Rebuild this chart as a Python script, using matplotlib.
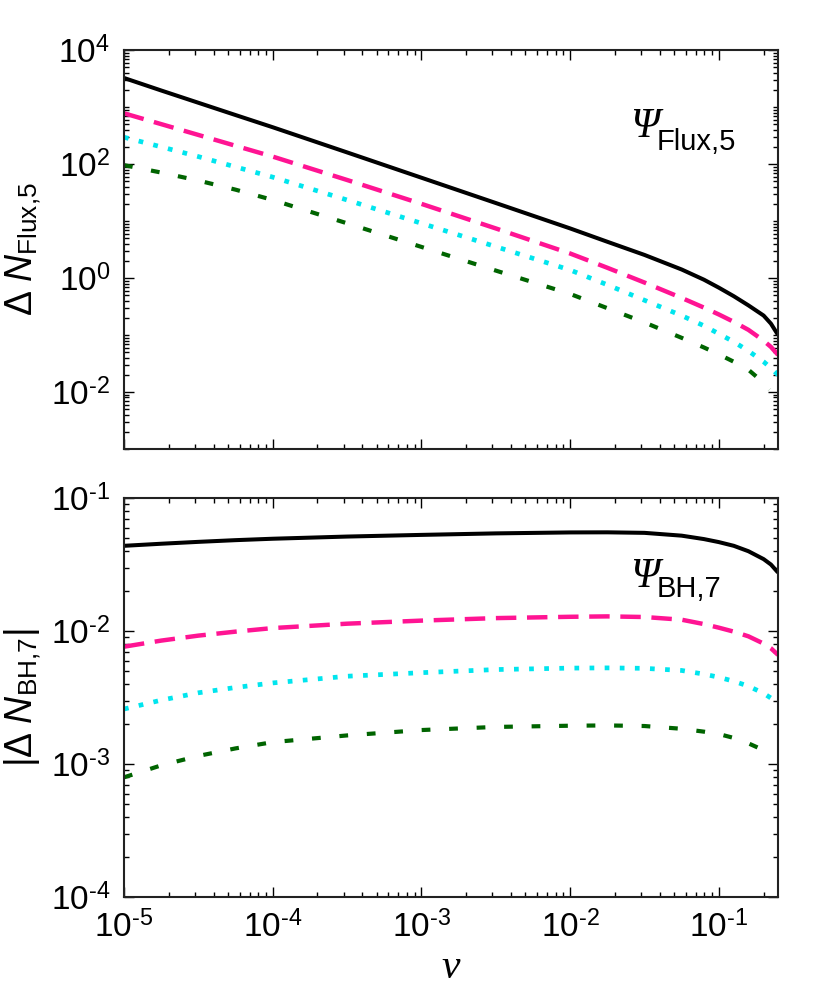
import numpy as np
import matplotlib
matplotlib.use('Agg')
import matplotlib.pyplot as plt
from matplotlib.ticker import LogLocator, FuncFormatter, NullFormatter

plt.rcParams['font.family'] = ['Liberation Sans', 'DejaVu Sans']
plt.rcParams['mathtext.fontset'] = 'custom'
plt.rcParams['mathtext.rm'] = 'Liberation Sans'
plt.rcParams['mathtext.it'] = 'Liberation Serif:italic'
plt.rcParams['mathtext.cal'] = 'Liberation Sans:italic'
plt.rcParams['mathtext.sf'] = 'Liberation Sans'

nu = [1e-5, 1.78e-5, 3.16e-5, 5.62e-5, 1e-4, 3.16e-4, 1e-3, 3.16e-3, 1e-2, 1.78e-2,
      3.16e-2, 5.62e-2, 7.94e-2, 0.1, 0.126, 0.158, 0.2, 0.224, 0.25]
nu_green = [1e-5, 1.78e-5, 3.16e-5, 5.62e-5, 1e-4, 3.16e-4, 1e-3, 3.16e-3, 1e-2, 1.78e-2,
            3.16e-2, 5.62e-2, 7.94e-2, 0.1, 0.126, 0.158, 0.2, 0.219]

# top panel: Delta N_Flux,5
flux_black = [3236, 1950, 1189, 724, 442, 160, 57.5, 20.7, 7.41, 4.32,
              2.54, 1.41, 0.933, 0.676, 0.479, 0.331, 0.219, 0.158, 0.100]
flux_pink = [776, 501, 324, 209, 135, 52.5, 20.0, 7.41, 2.69, 1.51,
             0.832, 0.447, 0.302, 0.229, 0.170, 0.123, 0.0794, 0.0617, 0.0447]
flux_cyan = [295, 200, 135, 89.1, 58.9, 23.4, 9.12, 3.55, 1.38, 0.759,
             0.407, 0.219, 0.145, 0.105, 0.0759, 0.0525, 0.0339, 0.0263, 0.0200]
flux_green = [95.5, 70.8, 51.3, 35.5, 23.4, 9.12, 3.51, 1.35, 0.525, 0.295,
              0.166, 0.0891, 0.0603, 0.0457, 0.0339, 0.0245, 0.0145, 0.0110]

# bottom panel: |Delta N_BH,7|
bh_black = [0.0437, 0.0453, 0.0468, 0.0482, 0.0494, 0.0513, 0.0528, 0.0542, 0.0551, 0.0552,
            0.0547, 0.0521, 0.0491, 0.0466, 0.0437, 0.0398, 0.0347, 0.0316, 0.0275]
bh_pink = [0.00762, 0.00847, 0.00923, 0.00989, 0.01052, 0.01135, 0.01197, 0.01250, 0.01279, 0.01288,
           0.01274, 0.01216, 0.01127, 0.01059, 0.00989, 0.00912, 0.00804, 0.00741, 0.00661]
bh_cyan = [0.00259, 0.00302, 0.00343, 0.00376, 0.00407, 0.00457, 0.00486, 0.00513, 0.00526, 0.00528,
           0.00524, 0.00505, 0.00474, 0.00449, 0.00419, 0.00385, 0.00340, 0.00313, 0.00278]
bh_green = [0.000794, 0.000977, 0.00115, 0.00131, 0.00146, 0.00164, 0.00180, 0.00190, 0.00194, 0.00195,
            0.00193, 0.00184, 0.00175, 0.00168, 0.00157, 0.00143, 0.00127, 0.00116]

fig = plt.figure(figsize=(8.3, 9.97), dpi=100)
ax1 = fig.add_axes([0.1494, 0.5497, 0.788, 0.4001])
ax2 = fig.add_axes([0.1494, 0.1003, 0.788, 0.4002])

def draw(ax, black, pink, cyan, green):
    ax.plot(nu, black, color='black', lw=2.9, solid_capstyle='butt')
    ax.plot(nu, pink, color='#ff1493', lw=3.2, dashes=(4.6, 2.4))
    ax.plot(nu, cyan, color='#00e5ee', lw=3.4, dashes=(1.0, 2.2))
    ax.plot(nu_green, green, color='#006400', lw=3.0, dashes=(2.1, 4.5))

draw(ax1, flux_black, flux_pink, flux_cyan, flux_green)
draw(ax2, bh_black, bh_pink, bh_cyan, bh_green)

def sup(v, pos):
    e = int(round(np.log10(v)))
    s = str(e).replace('-', '\u2010')
    return r'$10^{%s}$' % s

for ax in (ax1, ax2):
    ax.set_xscale('log')
    ax.set_yscale('log')
    ax.set_xlim(1e-5, 0.25)
    ax.xaxis.set_major_locator(LogLocator(base=10, numticks=20))
    ax.xaxis.set_minor_locator(LogLocator(base=10, subs=np.arange(2, 10), numticks=20))
    ax.yaxis.set_major_locator(LogLocator(base=10, numticks=20))
    ax.yaxis.set_minor_locator(LogLocator(base=10, subs=np.arange(2, 10), numticks=20))
    ax.xaxis.set_minor_formatter(NullFormatter())
    ax.yaxis.set_minor_formatter(NullFormatter())
    ax.tick_params(which='both', direction='in', top=True, right=True, labelsize=24, width=1.0)
    ax.tick_params(which='major', length=7)
    ax.tick_params(which='minor', length=3.5)
    ax.tick_params(axis='y', pad=10)
    ax.tick_params(axis='x', pad=10)
    for sp in ax.spines.values():
        sp.set_linewidth(1.5)
        sp.set_color('#222222')

# top panel: labelled ticks every two decades, the odd decades as minor ticks
ax1.yaxis.set_major_locator(LogLocator(base=100, numticks=20))
ax1.yaxis.set_minor_locator(LogLocator(base=10, subs=np.arange(1, 10), numticks=40))
ax1.set_ylim(1e-3, 1e4)
ax2.set_ylim(1e-4, 1e-1)
ax1.yaxis.set_major_formatter(FuncFormatter(sup))
ax2.yaxis.set_major_formatter(FuncFormatter(sup))
ax2.xaxis.set_major_formatter(FuncFormatter(sup))
ax1.tick_params(labelbottom=False)

ax1.set_ylabel(r'$\Delta\ \mathcal{N}_{\mathrm{Flux{,}5}}$', fontsize=27)
ax2.set_ylabel(r'$|\Delta\ \mathcal{N}_{\mathrm{BH{,}7}}|$', fontsize=27)
ax1.yaxis.set_label_coords(-0.124, 0.5)
ax2.yaxis.set_label_coords(-0.124, 0.5)
ax2.set_xlabel(r'$\nu$', fontsize=30)
ax2.xaxis.set_label_coords(0.5, -0.125)

psi_font = dict(family='Liberation Serif', style='italic', fontsize=30)
ax1.text(0.774, 0.782, '\u03a8', transform=ax1.transAxes, ha='left', va='baseline', **psi_font)
ax1.text(0.815, 0.749, 'Flux,5', transform=ax1.transAxes, ha='left', va='baseline', fontsize=21)
ax2.text(0.774, 0.777, '\u03a8', transform=ax2.transAxes, ha='left', va='baseline', **psi_font)
ax2.text(0.815, 0.752, 'BH,7', transform=ax2.transAxes, ha='left', va='baseline', fontsize=21)

fig.savefig('out.png', dpi=100)
